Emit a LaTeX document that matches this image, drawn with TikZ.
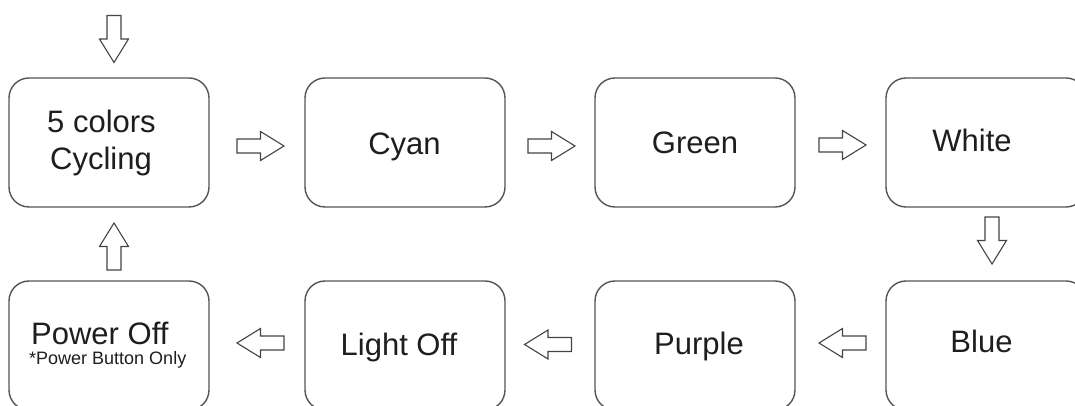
\documentclass[tikz,border=0pt]{standalone}
\usepackage{fontspec}
\setmainfont{Liberation Sans}
\usetikzlibrary{calc}
\definecolor{boxline}{HTML}{555555}
\definecolor{arrline}{HTML}{444444}
\definecolor{txt}{HTML}{1E1E1E}
\begin{document}
\begin{tikzpicture}[x=1pt,y=1pt,
  stepbox/.style={draw=boxline,line width=1.4pt,rounded corners=20pt,minimum width=200pt,minimum height=129pt,inner sep=0pt,fill=white},
  lbl/.style={inner sep=0pt,text=txt,font=\fontsize{31}{37}\selectfont},
  small/.style={inner sep=0pt,text=txt,font=\fontsize{18}{21}\selectfont},
  blockarrow/.pic={\draw[arrline,line width=1.1pt,fill=white,line join=miter]
     (-23.5,-7) -- (0,-7) -- (0,-14.5) -- (23.5,0) -- (0,14.5) -- (0,7) -- (-23.5,7) -- cycle;}
]
\useasboundingbox (0,0) rectangle (1075,406);
% boxes
\node[stepbox] (b1) at (109,263.5) {};
\node[stepbox] (b2) at (405,263.5) {};
\node[stepbox] (b3) at (695,263.5) {};
\node[stepbox] (b4) at (986,263.5) {};
\node[stepbox] (b5) at (986,60.5) {};
\node[stepbox] (b6) at (695,60.5) {};
\node[stepbox] (b7) at (405,60.5) {};
\node[stepbox] (b8) at (109,60.5) {};
% texts
\node[lbl,anchor=base west] (t1a) at (47,273) {5 colors};
\node[lbl,anchor=base west] (t1b) at (50,236) {Cycling};
\node[lbl,anchor=base] (t2) at (404.5,251.5) {Cyan};
\node[lbl,anchor=base] (t3) at (695,252) {Green};
\node[lbl,anchor=base] (t4) at (972,254) {White};
\node[lbl,anchor=base] (t5) at (981.5,53) {Blue};
\node[lbl,anchor=base] (t6) at (699,51) {Purple};
\node[lbl,anchor=base] (t7) at (399,50) {Light Off};
\node[lbl,anchor=base west] (t8a) at (31,61) {Power Off};
\node[small,anchor=base west] (t8b) at (29,41) {*Power Button Only};
% arrows
\coordinate (entry) at (114,367);
\pic[rotate=-90] at (entry) {blockarrow};
\pic at ($(b1.east)!0.5!(b2.west)+(3.5,-3.5)$) {blockarrow};
\pic at ($(b2.east)!0.5!(b3.west)+(1.5,-3.5)$) {blockarrow};
\pic at ($(b3.east)!0.5!(b4.west)+(2,-2.5)$) {blockarrow};
\pic[rotate=-90] at ($(b4.south)!0.5!(b5.north)+(6,3.5)$) {blockarrow};
\pic[rotate=180] at ($(b5.west)!0.5!(b6.east)+(2,2.5)$) {blockarrow};
\pic[rotate=180] at ($(b6.west)!0.5!(b7.east)+(-2,1)$) {blockarrow};
\pic[rotate=180] at ($(b7.west)!0.5!(b8.east)+(3.5,2.5)$) {blockarrow};
\pic[rotate=90] at ($(b8.north)!0.5!(b1.south)+(5,-2.5)$) {blockarrow};
\end{tikzpicture}
\end{document}
